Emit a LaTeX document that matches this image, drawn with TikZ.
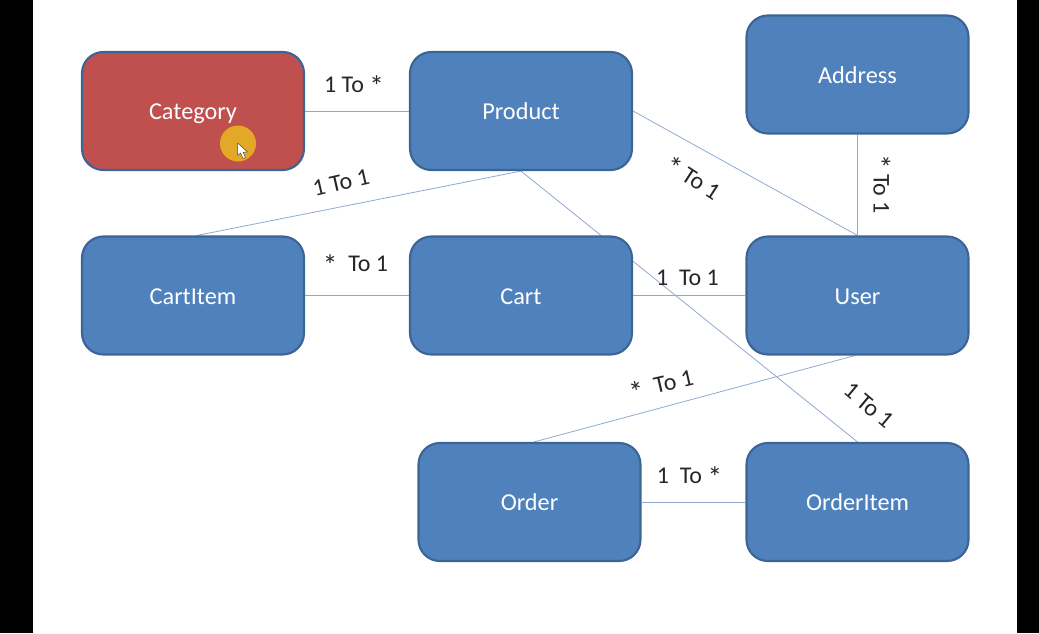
\documentclass[tikz,border=0pt]{standalone}
\usepackage{fontspec}
\setmainfont{Carlito}
\usetikzlibrary{backgrounds}
\definecolor{boxblue}{HTML}{4F81BD}
\definecolor{boxred}{HTML}{C0504D}
\definecolor{boxedge}{HTML}{3C6494}
\definecolor{linkblue}{HTML}{8FA9D0}
\definecolor{spotorange}{HTML}{E2A826}
\newcommand{\cardstar}{\raisebox{-3pt}{\fontsize{22}{22}\selectfont *}}
\tikzset{
  entity/.style={draw=boxedge,line width=1.6pt,fill=boxblue,text=white,rounded corners=16pt,
    minimum width=166.5pt,minimum height=88.5pt,inner sep=0pt,text height=16pt,text depth=3.2pt,
    font=\fontsize{18.2}{20}\selectfont},
  link/.style={draw=linkblue,line width=0.6pt},
  card/.style={inner sep=0pt,text=black!85,font=\fontsize{18}{20}\selectfont}
}
\begin{document}
\begin{tikzpicture}[x=0.75pt,y=0.75pt,yscale=-1]
\useasboundingbox (0,0) rectangle (1039,633);
\fill[black] (0,0) rectangle (33,633);
\fill[black] (1017,0) rectangle (1039,633);

\node[entity,fill=boxred] (category) at (193,111) {Category};
\node[entity] (product) at (521,111) {Product};
\node[entity] (address) at (857.5,74.5) {Address};
\node[entity] (cartitem) at (193,295.5) {CartItem};
\node[entity] (cart) at (521,295.5) {Cart};
\node[entity] (user) at (857.5,295.5) {User};
\node[entity] (order) at (529.5,502) {Order};
\node[entity] (orderitem) at (857.5,502) {OrderItem};

% connectors go behind the boxes
\begin{pgfonlayer}{background}
\draw[link] (category) -- (product);
\draw[link] (product.south) -- ([xshift=3pt]cartitem.north);
\draw[link] (product.east) -- (user.north);
\draw[link] (product.south) -- (orderitem.north);
\draw[link] (address) -- (user);
\draw[link] (cartitem) -- (cart);
\draw[link] (cart) -- (user);
\draw[link] ([xshift=-2pt]user.south) -- ([xshift=3.4pt]order.north);
\draw[link] (order) -- (orderitem);
\end{pgfonlayer}

\node[card] (lblcatprod) at (354,86) {1 To \cardstar};
\node[card,rotate=13] (lblprodci) at (341,183) {1 To 1};
\node[card,rotate=-33] (lblproduser) at (692,179) {\cardstar\ To 1};
\node[card,rotate=-90] (lbladdr) at (880,184) {\cardstar\ To 1};
\node[card] (lblcicart) at (355.5,265) {\cardstar\ \ To 1};
\node[card] (lblcartuser) at (687.5,278) {1\ \ To 1};
\node[card,rotate=13] (lbluserord) at (661.5,386) {\cardstar\ \ To 1};
\node[card,rotate=-40] (lblprodoi) at (869,405.5) {1 To 1};
\node[card] (lblordoi) at (689.5,477) {1\ \ To \cardstar};

% mouse pointer
\fill[spotorange] (238,143.5) circle (18);
\draw[fill=white,draw=black!70,line width=0.4pt,line join=round] (237.7,143) -- (237.7,155.5) -- (240.6,153) -- (243,158.5) -- (245.5,157.5) -- (243.2,152.3) -- (247.5,152) -- cycle;
\end{tikzpicture}
\end{document}
